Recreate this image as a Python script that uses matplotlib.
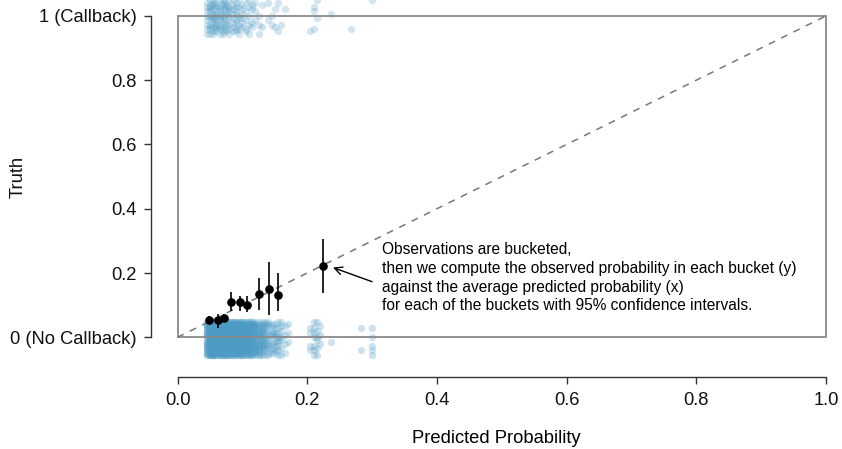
import numpy as np
import matplotlib
matplotlib.use("Agg")
import matplotlib.pyplot as plt
from matplotlib.patches import Rectangle

plt.rcParams['font.family'] = ['Liberation Sans', 'DejaVu Sans']

# ---- data ----
# distinct predicted-probability levels and how many resumes sit at each
levels_no = [0.045, 0.050, 0.055, 0.060, 0.065, 0.070, 0.075, 0.080, 0.085, 0.090,
             0.095, 0.100, 0.105, 0.110, 0.115, 0.120, 0.125, 0.130, 0.135, 0.140,
             0.145, 0.150, 0.155, 0.160, 0.165, 0.170, 0.205, 0.210, 0.215, 0.220,
             0.237, 0.283, 0.300]
counts_no = [30, 50, 55, 55, 55, 50, 50, 45, 45, 40,
             40, 38, 35, 32, 30, 26, 22, 18, 14, 12,
             10, 9, 9, 7, 4, 3, 4, 7, 6, 3,
             1, 2, 5]
levels_yes = [0.045, 0.050, 0.055, 0.060, 0.065, 0.070, 0.075, 0.080, 0.085, 0.090,
              0.095, 0.100, 0.105, 0.110, 0.115, 0.120, 0.125, 0.130, 0.140, 0.145,
              0.150, 0.155, 0.160, 0.165, 0.205, 0.210, 0.215, 0.237, 0.268, 0.300]
counts_yes = [8, 11, 12, 12, 11, 11, 10, 9, 8, 8,
              7, 6, 5, 5, 4, 3, 3, 2, 2, 2,
              2, 2, 1, 1, 1, 3, 2, 1, 1, 1]
# vertical display jitter (hand-picked, evenly mixed offsets)
jitter_offsets = [-0.055, 0.000, -0.0275, 0.0275, -0.041, 0.014, -0.014, 0.041,
                  -0.048, 0.007, -0.021, 0.034, -0.034, 0.021, -0.007, 0.048]

bucket_x = [0.048, 0.062, 0.071, 0.082, 0.096, 0.107, 0.125, 0.1415, 0.155, 0.224]
bucket_y = [0.055, 0.054, 0.061, 0.111, 0.109, 0.101, 0.135, 0.150, 0.131, 0.222]
bucket_lo = [0.045, 0.030, 0.050, 0.082, 0.082, 0.078, 0.086, 0.069, 0.081, 0.138]
bucket_hi = [0.065, 0.074, 0.072, 0.141, 0.128, 0.128, 0.186, 0.234, 0.200, 0.307]

xticks = [0.0, 0.2, 0.4, 0.6, 0.8, 1.0]
xtick_labels = ["0.0", "0.2", "0.4", "0.6", "0.8", "1.0"]
yticks = [0.0, 0.2, 0.4, 0.6, 0.8, 1.0]
ytick_labels = ["0 (No Callback)", "0.2", "0.4", "0.6", "0.8", "1 (Callback)"]

note = ("Observations are bucketed,\n"
        "then we compute the observed probability in each bucket (y)\n"
        "against the average predicted probability (x)\n"
        "for each of the buckets with 95% confidence intervals.")


def expand(levels, counts, truth, shift):
    xs, ys = [], []
    jit = np.asarray(jitter_offsets)
    for i, (lv, c) in enumerate(zip(levels, counts)):
        rolled = np.roll(jit, shift * i)
        offs = rolled[np.arange(c) % len(jit)]
        xs.extend([lv] * c)
        ys.extend(list(truth + offs))
    return np.array(xs), np.array(ys)


x0, y0 = expand(levels_no, counts_no, 0.0, 3)
x1, y1 = expand(levels_yes, counts_yes, 1.0, 5)

W, H = 842, 449
fig = plt.figure(figsize=(W / 100, H / 100), dpi=100)
left_px, bottom_px = 151, 377
ax = fig.add_axes([left_px / W, (H - bottom_px) / H, (W - left_px) / W, bottom_px / H])

unit_x = 648.5
unit_y = 321.3
x_left = -(177.5 - left_px) / unit_x
x_right = 1 + (W - 826) / unit_x
y_bottom = -(bottom_px - 337.3) / unit_y
y_top = 1 + 15.9 / unit_y
ax.set_xlim(x_left, x_right)
ax.set_ylim(y_bottom, y_top)

blue = (76 / 255, 155 / 255, 197 / 255)
ax.scatter(x0, y0, s=28, color=blue, alpha=0.27, linewidths=0, zorder=2)
ax.scatter(x1, y1, s=28, color=blue, alpha=0.25, linewidths=0, zorder=2)

ax.add_patch(Rectangle((0, 0), 1, 1, fill=False, edgecolor='#8a8a8a', lw=1.3, zorder=3))
ax.plot([0, 1], [0, 1], ls=(0, (4.5, 4.5)), color='#777777', lw=1.1, zorder=3)

yerr = [np.array(bucket_y) - np.array(bucket_lo), np.array(bucket_hi) - np.array(bucket_y)]
ax.errorbar(bucket_x, bucket_y, yerr=yerr, fmt='o', color='black', ms=5.2,
            elinewidth=1.2, capsize=0, zorder=5)

ax.annotate("", xy=(0.2397, 0.217), xytext=(0.300, 0.173),
            arrowprops=dict(arrowstyle='->', color='black', lw=1.0,
                            mutation_scale=14, shrinkA=0, shrinkB=0), zorder=5)
ax.text(0.316, 0.185, note, ha='left', va='center', fontsize=11.2,
        linespacing=1.3, zorder=5)

for s in ['top', 'right']:
    ax.spines[s].set_visible(False)
for s in ['left', 'bottom']:
    ax.spines[s].set_color('#333333')
    ax.spines[s].set_linewidth(1.0)
ax.spines['left'].set_bounds(0, 1)
ax.spines['bottom'].set_bounds(0, 1)

ax.set_xticks(xticks)
ax.set_xticklabels(xtick_labels)
ax.set_yticks(yticks)
ax.set_yticklabels(ytick_labels)
ax.tick_params(axis='both', direction='out', length=5, width=1.0, color='#333333',
               labelsize=13.2, labelcolor='#111111')
ax.tick_params(axis='x', pad=6)
ax.tick_params(axis='y', pad=5)

ax.set_xlabel("Predicted Probability", fontsize=13.2, labelpad=15)
fig.text(18 / W, 1 - 177 / H, "Truth", rotation=90, ha='center', va='center',
         fontsize=13.2, color='#111111')
ax.patch.set_alpha(0)

fig.savefig("out.png", dpi=100)
